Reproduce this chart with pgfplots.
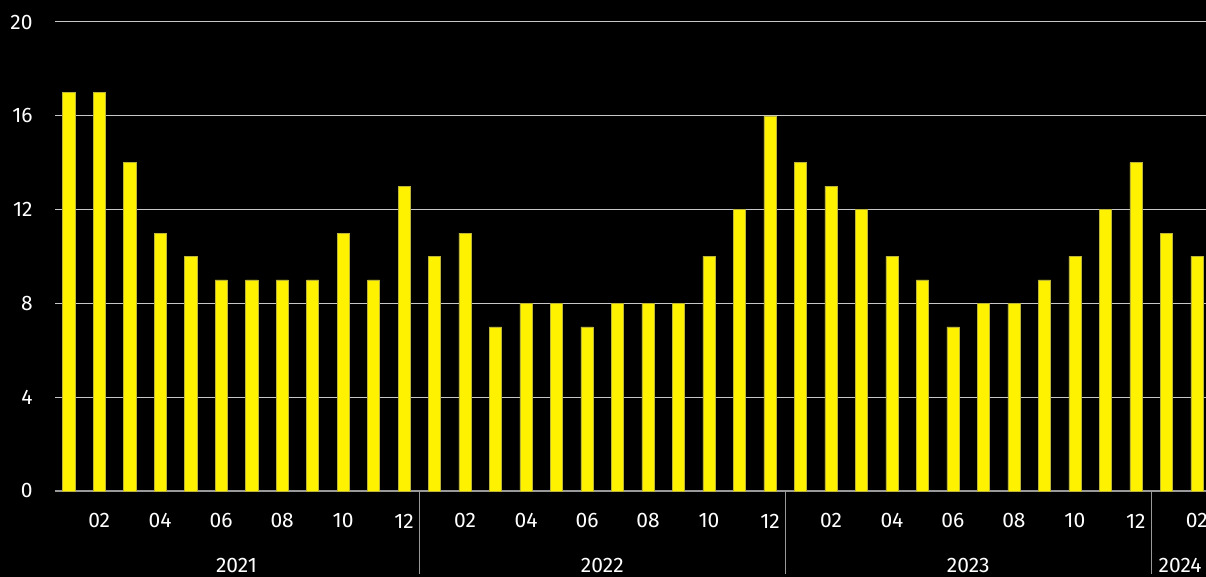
\documentclass[border=0pt]{standalone}
\usepackage{pgfplots}
\pgfplotsset{compat=1.18}
\usepackage{fontspec}
\setmainfont{Fira Sans}
\usetikzlibrary{calc}
\pgfdeclarelayer{background}
\pgfsetlayers{background,main}
\begin{document}
\begin{tikzpicture}
\begin{axis}[
  name=ax,
  scale only axis,
  width=575.5pt, height=234.5pt,
  xmin=0.55, xmax=38.3,
  ymin=0, ymax=20,
  ytick={0,4,...,20},
  xtick={2,4,...,38},
  xticklabels={02,04,06,08,10,12,02,04,06,08,10,12,02,04,06,08,10,12,02},
  ybar, bar width=0.4,
  major tick length=0pt,
  axis x line*=bottom, axis y line*=left,
  y axis line style={draw=none},
  x axis line style={draw=white!60!black, line width=0.8pt},
  ymajorgrids,
  major grid style={draw=white!78!black, line width=0.5pt},
  tick label style={font=\fontsize{10.5}{12}\selectfont, text=white},
  yticklabel style={anchor=east, inner sep=0pt, xshift=-11pt},
  xticklabel style={anchor=center, inner sep=0pt, yshift=-15pt},
  /pgf/number format/assume math mode=true,
  clip=false,
]
\addplot[fill=yellow, draw=yellow!70!black, line width=0.25pt] coordinates {
(1,17)(2,17)(3,14)(4,11)(5,10)(6,9)(7,9)(8,9)(9,9)(10,11)(11,9)(12,13)
(13,10)(14,11)(15,7)(16,8)(17,8)(18,7)(19,8)(20,8)(21,8)(22,10)(23,12)(24,16)
(25,14)(26,13)(27,12)(28,10)(29,9)(30,7)(31,8)(32,8)(33,9)(34,10)(35,12)(36,14)
(37,11)(38,10)
};
\coordinate (s1) at (axis cs:12.5,0);
\coordinate (s2) at (axis cs:24.5,0);
\coordinate (s3) at (axis cs:36.5,0);
\coordinate (y1) at (axis cs:6.5,0);
\coordinate (y2) at (axis cs:18.5,0);
\coordinate (y3) at (axis cs:30.5,0);
\coordinate (y4) at (axis cs:37.45,0);
\end{axis}
\draw[white!60!black, line width=0.6pt] (s1) -- ++(0,-41.5pt);
\draw[white!60!black, line width=0.6pt] (s2) -- ++(0,-41.5pt);
\draw[white!60!black, line width=0.6pt] (s3) -- ++(0,-41.5pt);
\foreach \c/\t in {y1/2021,y2/2022,y3/2023,y4/2024} {
  \node[text=white, font=\fontsize{10.5}{12}\selectfont, anchor=center, inner sep=0pt] at ($(\c)+(0,-37.25pt)$) {\t};
}
\pgfresetboundingbox
\useasboundingbox ($(ax.south west)+(-27.5pt,-43pt)$) rectangle ($(ax.north east)+(0,11pt)$);
\begin{pgfonlayer}{background}
\fill[black] ($(ax.south west)+(-27.5pt,-43pt)$) rectangle ($(ax.north east)+(0,11pt)$);
\end{pgfonlayer}
\end{tikzpicture}
\end{document}
